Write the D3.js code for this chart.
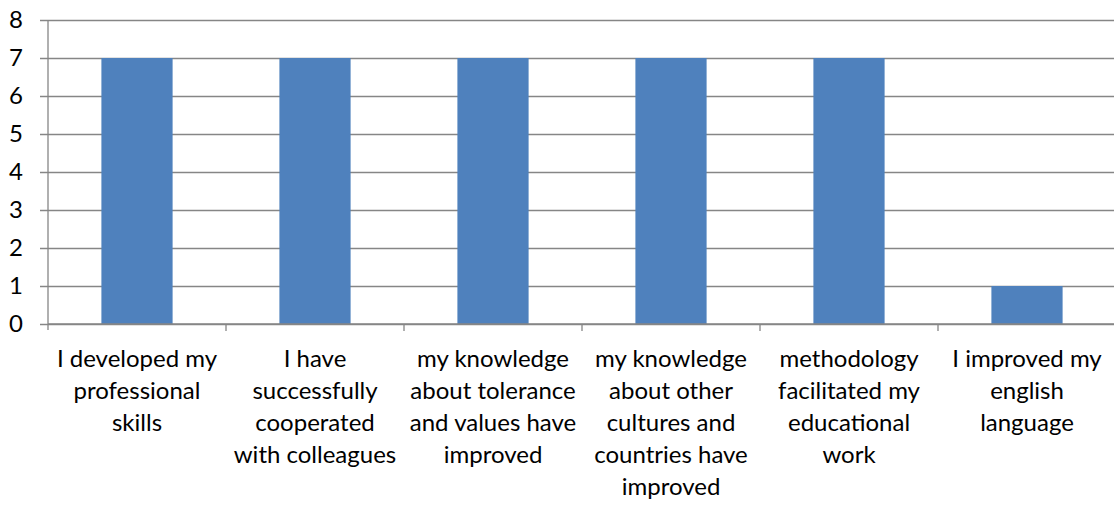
<!DOCTYPE html>
<html>
<head>
<meta charset="utf-8">
<script src="https://cdn.jsdelivr.net/npm/d3@7"></script>
<style>
  html, body { margin: 0; padding: 0; background: #fff; }
  svg { display: block; }
</style>
</head>
<body>
<svg id="chart" width="1114" height="505"></svg>
<script>
// categories (already broken into lines as in the picture)
const categories = [
  ['I developed my', 'professional', 'skills'],
  ['I have', 'successfully', 'cooperated', 'with colleagues'],
  ['my knowledge', 'about tolerance', 'and values have', 'improved'],
  ['my knowledge', 'about other', 'cultures and', 'countries have', 'improved'],
  ['methodology', 'facilitated my', 'educational', 'work'],
  ['I improved my', 'english', 'language']
];
const values = [7, 7, 7, 7, 7, 1];
const yTicks = [0, 1, 2, 3, 4, 5, 6, 7, 8];

const svg = d3.select('#chart');
const margin = { top: 20, right: -2, bottom: 181, left: 48 };
const width  = +svg.attr('width')  - margin.left - margin.right;
const height = +svg.attr('height') - margin.top  - margin.bottom;
const g = svg.append('g').attr('transform', `translate(${margin.left},${margin.top})`);

const font = 'Lato, Carlito, Calibri, sans-serif';
const gridColor = '#868686';

const ids = d3.range(categories.length);
const x = d3.scaleBand().domain(ids).range([0, width]).paddingInner(0.6).paddingOuter(0.3);
const xEdge = d3.scaleLinear().domain([0, categories.length]).range([0, width]);
const y = d3.scaleLinear().domain([0, 8]).range([height, 0]);

// horizontal gridlines + y ticks
g.append('g')
  .call(d3.axisLeft(y).tickValues(yTicks).tickSize(-width - 8).tickPadding(25))
  .call(a => a.select('.domain').remove())
  .call(a => a.selectAll('.tick line').attr('x1', -8).attr('x2', width).attr('stroke', gridColor).attr('stroke-width', 1.3))
  .call(a => a.selectAll('.tick text').attr('font-family', font).attr('font-size', '24px').attr('fill', '#000'));

// bars
g.selectAll('rect.bar')
  .data(values).enter().append('rect')
  .attr('class', 'bar')
  .attr('x', (d, i) => x(i))
  .attr('width', x.bandwidth())
  .attr('y', d => y(d))
  .attr('height', d => y(0) - y(d))
  .attr('fill', '#4F81BD');

// y axis line
g.append('line')
  .attr('x1', 0).attr('x2', 0).attr('y1', 0).attr('y2', height + 6)
  .attr('stroke', gridColor).attr('stroke-width', 1.3);

// x axis line + category separators
g.append('line')
  .attr('x1', 0).attr('x2', width).attr('y1', height).attr('y2', height)
  .attr('stroke', gridColor).attr('stroke-width', 1.3);
g.selectAll('line.sep')
  .data(d3.range(1, categories.length + 1)).enter().append('line')
  .attr('class', 'sep')
  .attr('x1', d => xEdge(d)).attr('x2', d => xEdge(d))
  .attr('y1', height).attr('y2', height + 7)
  .attr('stroke', gridColor).attr('stroke-width', 1.3);

// category labels
const lbl = g.selectAll('text.cat')
  .data(categories).enter().append('text')
  .attr('class', 'cat')
  .attr('text-anchor', 'middle')
  .attr('font-family', font).attr('font-size', '24px').attr('fill', '#000')
  .attr('transform', (d, i) => `translate(${x(i) + x.bandwidth() / 2},${height + 43})`);
lbl.selectAll('tspan')
  .data(d => d).enter().append('tspan')
  .attr('x', 0).attr('y', (d, i) => i * 32)
  .text(d => d);
</script>
</body>
</html>
